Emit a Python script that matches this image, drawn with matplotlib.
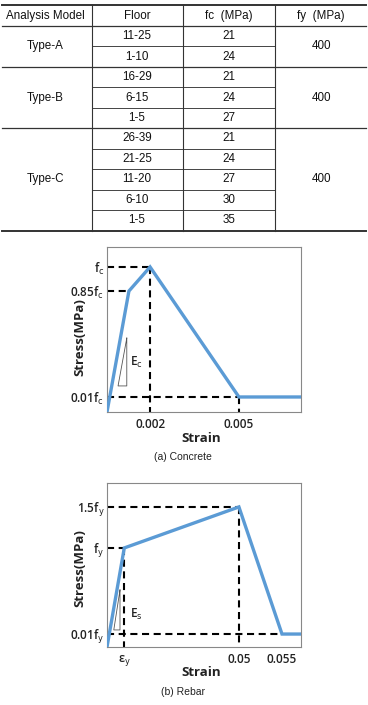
import numpy as np
import matplotlib
matplotlib.use("Agg")
import matplotlib.pyplot as plt

# ---- table data ----
headers = ["Analysis Model", "Floor", "fc  (MPa)", "fy  (MPa)"]
models = ["Type-A", "Type-B", "Type-C"]
floors = [["11-25", "1-10"],
          ["16-29", "6-15", "1-5"],
          ["26-39", "21-25", "11-20", "6-10", "1-5"]]
fc_values = [[21, 24],
             [21, 24, 27],
             [21, 24, 27, 30, 35]]
fy_values = [400, 400, 400]

# ---- schematic stress-strain curves (normalised axis positions) ----
conc_strain = [0.0, 0.113, 0.222, 0.68, 1.0]
conc_stress = [0.0, 0.733, 0.879, 0.091, 0.091]
conc_xticks = [0.222, 0.68]
conc_xlabels = ["0.002", "0.005"]
conc_yticks = [0.879, 0.733, 0.091]
conc_ylabels = [r"f$_\mathrm{c}$", r"0.85f$_\mathrm{c}$", r"0.01f$_\mathrm{c}$"]

rebar_strain = [0.0, 0.089, 0.68, 0.902, 1.0]
rebar_stress = [0.0, 0.604, 0.854, 0.079, 0.079]
rebar_xticks = [0.089, 0.68, 0.902]
rebar_xlabels = [r"ε$_\mathrm{y}$", "0.05", "0.055"]
rebar_yticks = [0.854, 0.604, 0.079]
rebar_ylabels = [r"1.5f$_\mathrm{y}$", r"f$_\mathrm{y}$", r"0.01f$_\mathrm{y}$"]

plt.rcParams["mathtext.default"] = "regular"

W, H = 368, 705
fig = plt.figure(figsize=(W / 100, H / 100), dpi=100)

# table drawn in pixel coordinates on a full-figure axes
ax_t = fig.add_axes([0, 0, 1, 1])
ax_t.set_xlim(0, W)
ax_t.set_ylim(H, 0)
ax_t.axis("off")

top, header_h, row_h = 5, 21, 20.45
col_edges = [2, 91.5, 183.3, 275, 366]
col_mid = [45.5, 137, 229, 321]
tfont = dict(family="Liberation Sans", fontsize=8.4, color="#111111",
             ha="center", va="center")

for cx, h in zip(col_mid, headers):
    ax_t.text(cx, top + header_h / 2 + 0.5, h, **tfont)

y = top + header_h
ax_t.plot([col_edges[0], col_edges[-1]], [top, top], color="#333333", lw=1.4)
ax_t.plot([col_edges[0], col_edges[-1]], [y, y], color="#333333", lw=0.9)
for model, fl, fcs, fy in zip(models, floors, fc_values, fy_values):
    n = len(fl)
    for i in range(n):
        yc = y + (i + 0.5) * row_h
        ax_t.text(col_mid[1], yc, fl[i], **tfont)
        ax_t.text(col_mid[2], yc, str(fcs[i]), **tfont)
        if i < n - 1:
            yl = y + (i + 1) * row_h
            ax_t.plot([col_edges[1], col_edges[3]], [yl, yl], color="#444444", lw=0.7)
    ax_t.text(col_mid[0], y + n * row_h / 2, model, **tfont)
    ax_t.text(col_mid[3], y + n * row_h / 2, str(fy), **tfont)
    y += n * row_h
    lw = 1.4 if model == models[-1] else 0.9
    ax_t.plot([col_edges[0], col_edges[-1]], [y, y], color="#333333", lw=lw)
for xv in col_edges[1:4]:
    ax_t.plot([xv, xv], [top, y], color="#333333", lw=0.8)

blue = "#5b9bd5"
dash = (0, (3.4, 2.2))
lfont = dict(family="Open Sans", fontsize=8.5, fontweight="semibold", color="#222222")


def draw_curve(ax, strain, stress, xticks, xlabels, yticks, ylabels, hl, vl):
    ax.set_xlim(0, 1)
    ax.set_ylim(0, 1)
    for xp, yp in hl:
        ax.plot([0, xp], [yp, yp], color="black", lw=1.5, ls=dash, zorder=2)
    for xp, yp in vl:
        ax.plot([xp, xp], [yp, 0], color="black", lw=1.5, ls=dash, zorder=2)
    ax.plot(strain, stress, color=blue, lw=2.4, zorder=3, solid_joinstyle="miter")
    ax.set_xticks(xticks)
    ax.set_xticklabels(xlabels, **lfont)
    ax.set_yticks(yticks)
    ax.set_yticklabels(ylabels, **lfont)
    ax.tick_params(length=0, pad=2)
    ax.tick_params(axis="x", pad=4)
    for s in ax.spines.values():
        s.set_color("#888888")
        s.set_linewidth(0.8)


def fy_(py):
    return 1 - py / H


# concrete
ax_c = fig.add_axes([107 / W, fy_(412), 194 / W, 165 / H])
draw_curve(ax_c, conc_strain, conc_stress, conc_xticks, conc_xlabels,
           conc_yticks, conc_ylabels,
           hl=[(conc_strain[2], conc_stress[2]), (conc_strain[1], conc_stress[1]),
               (conc_strain[3], conc_stress[3])],
           vl=[(conc_strain[2], conc_stress[2]), (conc_strain[3], conc_stress[3])])
ax_c.plot([0.102, 0.057, 0.102, 0.102], [0.448, 0.158, 0.158, 0.448],
          color="#555555", lw=0.6)
ax_c.text(0.119, 0.30, r"E$_\mathrm{c}$", va="center", ha="left", **lfont)

# rebar
ax_r = fig.add_axes([107 / W, fy_(647), 194 / W, 164 / H])
draw_curve(ax_r, rebar_strain, rebar_stress, rebar_xticks, rebar_xlabels,
           rebar_yticks, rebar_ylabels,
           hl=[(rebar_strain[2], rebar_stress[2]), (rebar_strain[1], rebar_stress[1]),
               (rebar_strain[3], rebar_stress[3])],
           vl=[(rebar_strain[2], rebar_stress[2]), (rebar_strain[1], rebar_stress[1])])
ax_r.plot([0.067, 0.035, 0.067, 0.067], [0.348, 0.104, 0.104, 0.348],
          color="#555555", lw=0.6)
ax_r.text(0.119, 0.20, r"E$_\mathrm{s}$", va="center", ha="left", **lfont)

bfont = dict(family="Open Sans", fontsize=9.5, fontweight="bold", color="#222222",
             ha="center", va="center")
cfont = dict(family="Liberation Sans", fontsize=7.5, color="#222222",
             ha="center", va="center")
for ys, yl, ycap, cap in [(438, 337, 457, "(a) Concrete"), (673, 568, 692, "(b) Rebar")]:
    fig.text(201 / W, fy_(ys), "Strain", **bfont)
    fig.text(80 / W, fy_(yl), "Stress(MPa)", rotation=90, **bfont)
    fig.text(183 / W, fy_(ycap), cap, **cfont)

fig.savefig("out.png", dpi=100)
